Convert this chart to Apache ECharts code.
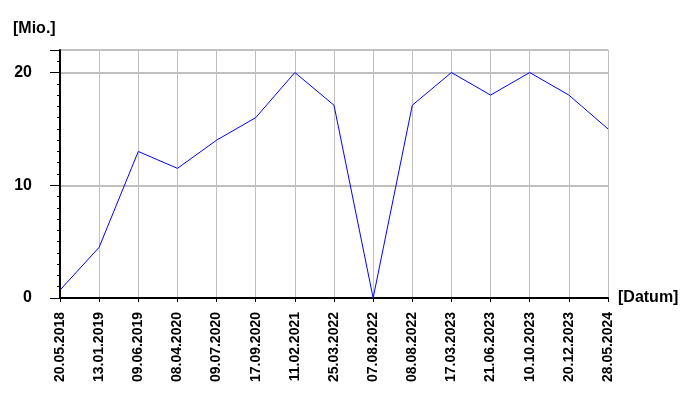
<!DOCTYPE html>
<html><head><meta charset="utf-8">
<script src="https://cdn.jsdelivr.net/npm/echarts@6/dist/echarts.min.js"></script>
<style>html,body{margin:0;padding:0;background:#fff}#c{width:700px;height:400px}</style>
</head><body><div id="c"></div>
<script>
const categories = ['20.05.2018','13.01.2019','09.06.2019','08.04.2020','09.07.2020','17.09.2020','11.02.2021','25.03.2022','07.08.2022','08.08.2022','17.03.2023','21.06.2023','10.10.2023','20.12.2023','28.05.2024'];
const values = [0.7, 4.5, 13, 11.5, 14, 16, 20, 17.1, 0, 17.1, 20, 18, 20, 18, 15];
const yTicks = [0, 10, 20];

const chart = echarts.init(document.getElementById('c'), null, {renderer: 'canvas'});
const font = 'Liberation Sans, Arial, sans-serif';
chart.setOption({
  animation: false,
  backgroundColor: '#fff',
  grid: {left: 60, right: 92, top: 50, bottom: 102, containLabel: false},
  xAxis: {
    type: 'category', data: categories, boundaryGap: false,
    name: '[Datum]', nameLocation: 'end', nameGap: 10,
    nameTextStyle: {fontFamily: font, fontSize: 16, fontWeight: 'bold', color: '#000', verticalAlign: 'middle'},
    axisLine: {lineStyle: {color: '#000', width: 2}},
    axisTick: {show: true, alignWithLabel: true, length: 4, lineStyle: {color: '#000', width: 1}},
    axisLabel: {rotate: 90, interval: 0, margin: 14, fontFamily: font, fontSize: 14, fontWeight: 'bold', color: '#000'},
    splitLine: {show: true, lineStyle: {color: '#c0c0c0', width: 1}}
  },
  yAxis: {
    type: 'value', min: 0, max: 22, interval: 10,
    name: '[Mio.]', nameLocation: 'end', nameGap: 13,
    nameTextStyle: {fontFamily: font, fontSize: 16, fontWeight: 'bold', color: '#000', align: 'left', padding: [0, 0, 0, -47]},
    axisLine: {show: true, lineStyle: {color: '#000', width: 2}},
    axisTick: {show: true, length: 10, lineStyle: {color: '#000', width: 1}},
    minorTick: {show: true, splitNumber: 10, length: 3, lineStyle: {color: '#000', width: 1}},
    axisLabel: {margin: 28, fontFamily: font, fontSize: 16, fontWeight: 'bold', color: '#000',
      formatter: v => yTicks.includes(v) ? String(v) : ''},
    splitLine: {show: true, lineStyle: {color: '#c0c0c0', width: 2}}
  },
  series: [{
    type: 'line', data: values, symbol: 'none',
    lineStyle: {color: '#0000ff', width: 1}
  }]
});
</script></body></html>
